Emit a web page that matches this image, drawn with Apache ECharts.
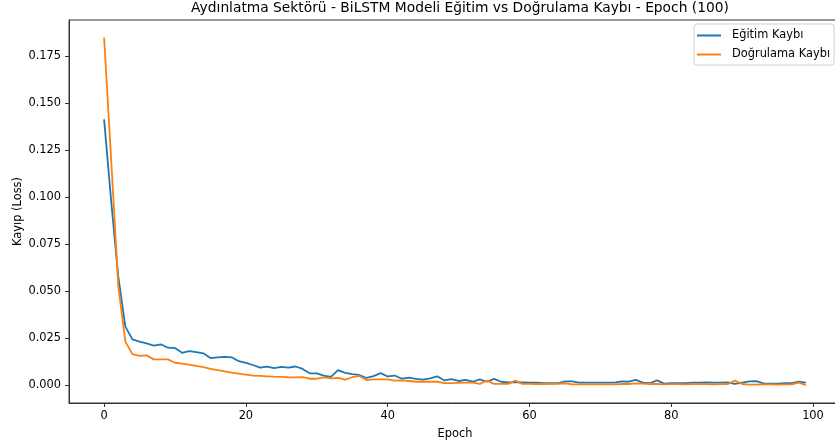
<!DOCTYPE html>
<html>
<head>
<meta charset="utf-8">
<script src="https://cdn.jsdelivr.net/npm/echarts@6/dist/echarts.min.js"></script>
<style>html,body{margin:0;padding:0;background:#fff}#c{width:835px;height:446px}</style>
</head>
<body>
<div id="c"></div>
<script>
const titleText = "Aydınlatma Sektörü - BiLSTM Modeli Eğitim vs Doğrulama Kaybı - Epoch (100)";
const seriesNames = ["Eğitim Kaybı", "Doğrulama Kaybı"];
const xTicks = [0, 20, 40, 60, 80, 100];
const yTicks = [0, 0.025, 0.05, 0.075, 0.1, 0.125, 0.15, 0.175];

const trainLoss = [
  0.1415, 0.098, 0.058, 0.0313, 0.0245, 0.0233, 0.0224, 0.0212, 0.0219, 0.0201,
  0.0199, 0.0174, 0.0183, 0.0178, 0.0171, 0.0146, 0.0150, 0.0152, 0.0150, 0.0129,
  0.0120, 0.0109, 0.0095, 0.0100, 0.0092, 0.0099, 0.0095, 0.0101, 0.0088, 0.0065,
  0.0065, 0.0053, 0.0046, 0.0082, 0.0067, 0.0060, 0.0056, 0.0040, 0.0050, 0.0066,
  0.0048, 0.0053, 0.0036, 0.0042, 0.0035, 0.0031, 0.0038, 0.0049, 0.0027, 0.0034,
  0.0024, 0.0030, 0.0020, 0.0033, 0.0020, 0.0035, 0.0020, 0.0017, 0.0017, 0.0017,
  0.0015, 0.0015, 0.0012, 0.0012, 0.0012, 0.0022, 0.0022, 0.0015, 0.0015, 0.0015,
  0.0015, 0.0015, 0.0015, 0.0022, 0.0020, 0.0030, 0.0015, 0.0012, 0.0027, 0.0010,
  0.0012, 0.0013, 0.0013, 0.0015, 0.0015, 0.0016, 0.0015, 0.0015, 0.0016, 0.0009,
  0.0015, 0.0022, 0.0023, 0.0011, 0.0010, 0.0010, 0.0012, 0.0013, 0.0021, 0.0015
];
const valLoss = [
  0.185, 0.120, 0.053, 0.0233, 0.0167, 0.0157, 0.0160, 0.0139, 0.0139, 0.0139,
  0.0121, 0.0116, 0.0111, 0.0104, 0.0098, 0.0089, 0.0082, 0.0075, 0.0068, 0.0063,
  0.0058, 0.0053, 0.0051, 0.0049, 0.0047, 0.0046, 0.0044, 0.0043, 0.0045, 0.0036,
  0.0036, 0.0043, 0.0038, 0.0040, 0.0031, 0.0044, 0.0051, 0.0029, 0.0033, 0.0033,
  0.0033, 0.0026, 0.0027, 0.0024, 0.0020, 0.0021, 0.0020, 0.0020, 0.0013, 0.0013,
  0.0014, 0.0015, 0.0015, 0.0009, 0.0026, 0.0009, 0.0009, 0.0009, 0.0026, 0.0009,
  0.0009, 0.0008, 0.0008, 0.0009, 0.0009, 0.0012, 0.0006, 0.0006, 0.0006, 0.0006,
  0.0006, 0.0006, 0.0006, 0.0008, 0.0008, 0.0011, 0.0010, 0.0008, 0.0008, 0.0006,
  0.0007, 0.0007, 0.0006, 0.0007, 0.0008, 0.0007, 0.0006, 0.0007, 0.0008, 0.0026,
  0.0008, 0.0005, 0.0005, 0.0006, 0.0006, 0.0005, 0.0006, 0.0006, 0.0015, 0.0002
];

const epochs = trainLoss.map((_, i) => i);
const font = "DejaVu Sans";
const chart = echarts.init(document.getElementById('c'), null, {renderer: 'canvas'});
chart.setOption({
  animation: false,
  backgroundColor: '#fff',
  title: {
    text: titleText, left: 455, top: -4, textAlign: 'center',
    textStyle: {fontFamily: font, fontSize: 13.8, fontWeight: 'normal', color: '#000'}
  },
  legend: {
    orient: 'vertical', left: 694, top: 24,
    data: seriesNames,
    icon: 'rect', itemWidth: 24, itemHeight: 2, itemGap: 8,
    backgroundColor: '#fff', borderColor: '#d0d0d0', borderWidth: 1, borderRadius: 3,
    padding: [6, 4, 5, 3],
    textStyle: {fontFamily: font, fontSize: 11.4, color: '#000', padding: [0, 0, 0, 6]}
  },
  grid: {left: 69, top: 20, width: 772, height: 383, show: true, borderColor: '#333', borderWidth: 1, containLabel: false, outerBoundsMode: 'none'},
  xAxis: {
    type: 'value', min: -4.95, max: 103.95,
    name: 'Epoch', nameLocation: 'middle', nameGap: 26, nameMoveOverlap: false,
    nameTextStyle: {fontFamily: font, fontSize: 11.4, color: '#000'},
    axisLine: {show: true, onZero: false, lineStyle: {color: '#333', width: 1}},
    axisTick: {show: true, inside: false, length: 4, customValues: xTicks, lineStyle: {color: '#333'}},
    axisLabel: {customValues: xTicks, margin: 8, fontFamily: font, fontSize: 11.4, color: '#000', formatter: v => String(v)},
    splitLine: {show: false}
  },
  yAxis: {
    type: 'value', min: -0.0093, max: 0.1943,
    name: 'Kayıp (Loss)', nameLocation: 'middle', nameGap: 45, nameMoveOverlap: false,
    nameTextStyle: {fontFamily: font, fontSize: 11.4, color: '#000'},
    axisLine: {show: true, onZero: false, lineStyle: {color: '#333', width: 1}},
    axisTick: {show: true, inside: false, length: 4, customValues: yTicks, lineStyle: {color: '#333'}},
    axisLabel: {customValues: yTicks, margin: 8, fontFamily: font, fontSize: 11.4, color: '#000', formatter: v => v.toFixed(3)},
    splitLine: {show: false}
  },
  series: [
    {name: seriesNames[0], type: 'line', data: epochs.map(i => [i, trainLoss[i]]), symbol: 'none', color: '#1f77b4', lineStyle: {width: 1.8, color: '#1f77b4'}},
    {name: seriesNames[1], type: 'line', data: epochs.map(i => [i, valLoss[i]]), symbol: 'none', color: '#ff7f0e', lineStyle: {width: 1.8, color: '#ff7f0e'}}
  ]
});
</script>
</body>
</html>
